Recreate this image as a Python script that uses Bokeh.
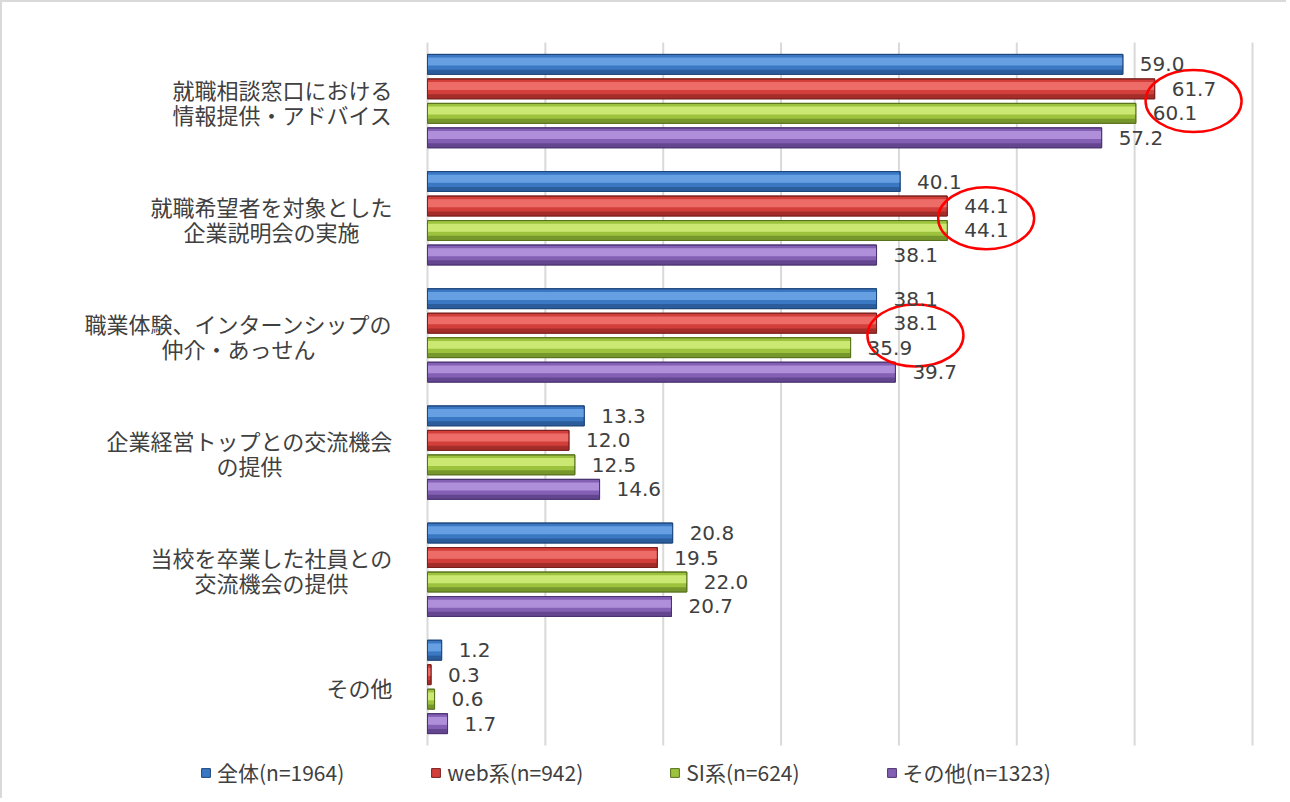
from bokeh.plotting import figure
from bokeh.models import ColumnDataSource, Range1d, LabelSet, Legend, LegendItem
from bokeh.embed import file_html
from bokeh.resources import INLINE
from bokeh.core.properties import value

# ---------------- data ----------------
categories = [
    ["就職相談窓口における", "情報提供・アドバイス"],
    ["就職希望者を対象とした", "企業説明会の実施"],
    ["職業体験、インターンシップの", "仲介・あっせん"],
    ["企業経営トップとの交流機会", "の提供"],
    ["当校を卒業した社員との", "交流機会の提供"],
    ["その他"],
]
series_names = ["全体(n=1964)", "web系(n=942)", "SI系(n=624)", "その他(n=1323)"]
zentai = [59.0, 40.1, 38.1, 13.3, 20.8, 1.2]
web = [61.7, 44.1, 38.1, 12.0, 19.5, 0.3]
si = [60.1, 44.1, 35.9, 12.5, 22.0, 0.6]
sonota = [57.2, 38.1, 39.7, 14.6, 20.7, 1.7]
circled_groups = [0, 1, 2]   # groups where web系 & SI系 labels are circled
x_ticks = [0, 10, 20, 30, 40, 50, 60, 70]

# ---------------- style / layout ----------------
series = [zentai, web, si, sonota]
mid = ["#3a78c3", "#d23f3b", "#9cc23e", "#8460b4"]
light = ["#6ea7e8", "#f27471", "#d3ee7c", "#b696e0"]
dark = ["#2a5a98", "#9e2b29", "#72922a", "#60448c"]
edge = ["#1f477c", "#7a1f1d", "#58721d", "#4a3370"]

W, H = 1286, 798
plot_l, plot_r, plot_t, plot_b = 425, 1250, 40, 743   # pixel box of the value area
xmax = x_ticks[-1]
n = len(categories)
pxu = (plot_r - plot_l) / xmax
pyu = (plot_b - plot_t) / n
x_range = Range1d(-plot_l / pxu, xmax + (W - plot_r) / pxu)
y_range = Range1d(n + (H - plot_b) / pyu, -plot_t / pyu)

step = 0.209
bh = 0.17
offsets = [(-1.5 + k) * step for k in range(4)]

p = figure(width=W, height=H, output_backend="svg", toolbar_location=None,
           x_range=x_range, y_range=y_range,
           x_axis_location=None, y_axis_location=None,
           min_border=0)
p.styles = {"border-top": "2px solid #d9d9d9", "border-left": "2px solid #d9d9d9"}
p.outline_line_color = None
p.grid.visible = False
p.background_fill_color = "white"
p.border_fill_color = "white"

# vertical gridlines over the value area
p.segment(x0=x_ticks, y0=[0] * len(x_ticks), x1=x_ticks, y1=[n] * len(x_ticks),
          line_color="#d9d9d9", line_width=2)

legend_items = []
for k, vals in enumerate(series):
    ys = [i + 0.5 + offsets[k] for i in range(n)]
    src = ColumnDataSource(dict(y=ys, v=vals,
                                yh=[y - bh * 0.14 for y in ys],
                                yd=[y + bh * 0.38 for y in ys],
                                t=["%.1f" % v for v in vals]))
    base = p.hbar(y="y", left=0, right="v", height=bh, source=src,
                  fill_color=mid[k], line_color=edge[k], line_width=1)
    p.hbar(y="yh", left=0, right="v", height=bh * 0.40, source=src,
           fill_color=light[k], line_color=None, fill_alpha=0.85)
    p.hbar(y="yd", left=0, right="v", height=bh * 0.22, source=src,
           fill_color=dark[k], line_color=None, fill_alpha=0.9)
    p.hbar(y="y", left=0, right="v", height=bh, source=src,
           fill_color=None, line_color=edge[k], line_width=1)
    p.add_layout(LabelSet(x="v", y="y", text="t", source=src, x_offset=17,
                          text_align="left", text_baseline="middle",
                          text_font=value("DejaVu Sans"), text_font_size="20px",
                          text_color="#404040"))
    legend_items.append(LegendItem(label=series_names[k], renderers=[base]))

# category labels (block right-aligned, lines centred)
fs = 22
lx, ly, lt, lo = [], [], [], []
for i, lines in enumerate(categories):
    maxw = max(len(s) for s in lines) * fs
    m = len(lines)
    for j, s in enumerate(lines):
        lx.append(0)
        ly.append(i + 0.5 + (j - (m - 1) / 2) * (25 / pyu))
        lt.append(s)
        lo.append(-(35 + maxw / 2))
csrc = ColumnDataSource(dict(x=lx, y=ly, t=lt, o=lo))
p.add_layout(LabelSet(x="x", y="y", text="t", x_offset="o", source=csrc,
                      text_align="center", text_baseline="middle",
                      text_font=value("Noto Sans CJK JP"), text_font_size="%dpx" % fs,
                      text_color="#404040"))

# red highlight rings
rx = [max(web[g], si[g]) + 3.3 for g in circled_groups]
ry = [g + 0.5 for g in circled_groups]
p.ellipse(x=rx, y=ry, width=96, height=62, width_units="screen", height_units="screen",
          fill_color=None, line_color="#ff0000", line_width=2.5)

legend = Legend(items=legend_items, orientation="horizontal", location=(198, 13),
                border_line_alpha=0, background_fill_alpha=0,
                label_text_font="Noto Sans CJK JP", label_text_font_size="21px",
                label_text_color="#404040",
                glyph_width=11, glyph_height=11, label_standoff=6, spacing=86,
                padding=0, margin=0)
p.add_layout(legend)

open("out.html", "w").write(file_html(p, INLINE))
